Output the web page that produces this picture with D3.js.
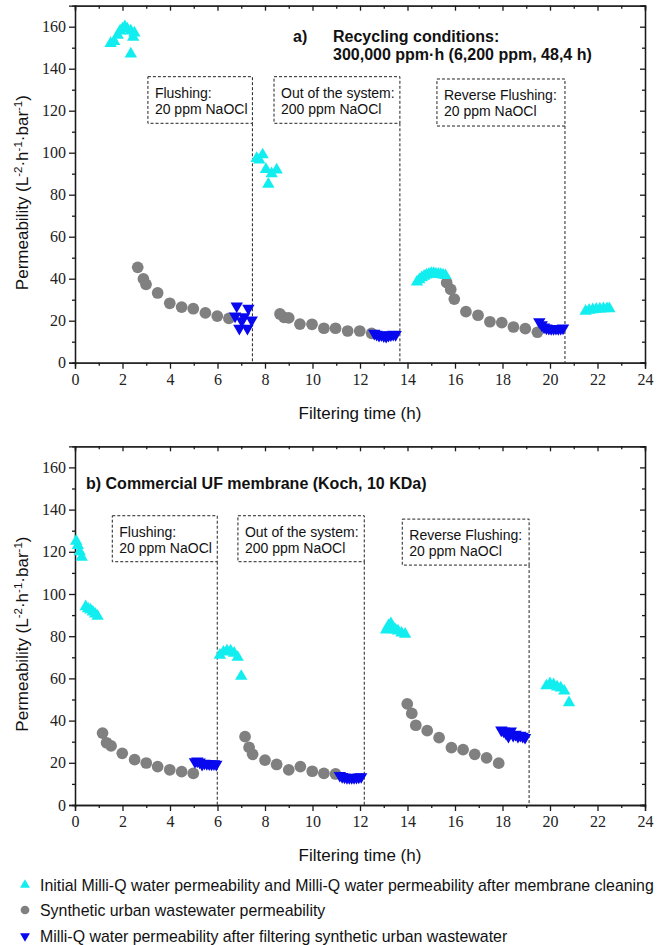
<!DOCTYPE html>
<html>
<head>
<meta charset="utf-8">
<script src="https://cdn.jsdelivr.net/npm/d3@7"></script>
<style>
  html, body { margin: 0; padding: 0; background: #fff; }
  svg { display: block; }
</style>
</head>
<body>
<svg id="chart" width="658" height="945"></svg>
<script>
// ---- Data: [filtering time (h), permeability (L-2·h-1·bar-1)] ----
// Panel a: recycled membrane
const aInitial = [
  [1.5,152],[1.65,153],[1.8,156],[1.9,158],[2.0,159],[2.1,160],[2.2,159],[2.35,158],[2.5,157],[2.45,155],[2.35,147],
  [7.65,97.3],[7.9,99],[7.76,96.5],[8.04,92],[8.28,90],[8.49,91.8],[8.14,85],
  [14.4,38.5],[14.5,39.5],[14.6,40.5],[14.7,41.2],[14.8,41.8],[14.9,42.2],[15.0,42.5],[15.1,42.5],[15.2,42.3],[15.3,42.2],[15.4,42],[15.5,41.8],[15.6,41.5],
  [21.5,24.5],[21.65,25],[21.8,25.3],[21.95,25.5],[22.1,25.6],[22.25,25.7],[22.4,25.8],[22.5,25.7]
];
const aWastewater = [
  [2.64,45.4],[2.88,39.9],[2.99,37.3],[3.48,33.2],[3.99,28.3],[4.49,26.5],[4.98,25.7],[5.49,23.7],[5.99,22.2],[6.48,21.1],
  [8.63,23.2],[8.8,21.6],[9.0,21.3],[9.47,18.4],[9.98,18.3],[10.48,16.4],[10.97,16.4],[11.48,15.1],[11.99,15.1],[12.49,14.0],
  [15.65,38.1],[15.82,34.9],[15.97,30.3],[16.46,24.3],[16.97,22.6],[17.47,19.5],[17.97,19.1],[18.46,17],[18.96,16.2],[19.47,14.5]
];
const aAfter = [
  [6.81,27],[7.3,25.9],[6.74,22.2],[7.12,21.9],[7.02,20],[7.44,20.3],[6.92,16.4],[7.26,16.4],
  [12.6,14],[12.7,13.5],[12.8,13],[12.9,13.3],[13.0,12.8],[13.1,12.5],[13.2,13],[13.3,13.2],[13.4,13.5],[13.5,13.4],
  [19.55,19.5],[19.65,18],[19.75,17],[19.85,16.5],[19.95,16.3],[20.05,16.2],[20.15,16.2],[20.25,16.3],[20.35,16.2],[20.45,16.3],[20.55,16.5]
];
// Panel b: commercial UF membrane
const bInitial = [
  [0.05,125],[0.12,123],[0.2,120],[0.28,117.5],
  [0.45,94],[0.55,93],[0.65,92.5],[0.75,91.5],[0.85,90.5],[0.95,89.5],
  [6.1,71],[6.25,72.5],[6.4,73],[6.55,73],[6.7,72],[6.85,70],[7.0,61],
  [13.1,83],[13.2,85],[13.3,86],[13.4,84],[13.5,83],[13.6,82.5],[13.75,81.5],[13.9,81],
  [19.85,56.5],[20.0,57.5],[20.15,57],[20.3,56],[20.45,55.5],[20.6,54],[20.8,48.5]
];
const bWastewater = [
  [1.16,34.1],[1.33,29.5],[1.52,28],[1.99,24.5],[2.51,21.5],[3.0,19.9],[3.48,18.2],[3.99,16.7],[4.49,15.8],[4.98,15],
  [7.16,32.4],[7.33,27.3],[7.48,24],[8.0,21.3],[8.49,19.2],[9.0,16.6],[9.49,18.2],[9.99,16],[10.48,15],[10.97,14.7],
  [13.99,47.9],[14.18,43.4],[14.35,37.8],[14.83,35.2],[15.33,31.9],[15.85,27.2],[16.34,26.2],[16.83,24],[17.33,22.3],[17.84,19.8]
];
const bAfter = [
  [5.05,20.5],[5.15,20.8],[5.25,20.3],[5.35,19.3],[5.45,19.8],[5.55,19.6],[5.65,19.5],[5.75,19.4],[5.85,19.5],[5.95,19.3],
  [11.15,14],[11.25,13.5],[11.35,13.2],[11.45,13],[11.55,13],[11.65,13],[11.75,13],[11.85,13.1],[11.95,13.2],[12.05,13.4],
  [17.95,35.5],[18.05,35],[18.15,34],[18.25,32.5],[18.35,35],[18.45,33],[18.55,33.5],[18.65,32.5],[18.75,33],[18.85,32.5],[18.95,32]
];

// Cleaning steps: [box left (h), box right = cleaning time (h), box bottom, box top, line 1, line 2]
const aCleaning = [
  [3.07, 7.47, 114, 136.2, "Flushing:", "20 ppm NaOCl"],
  [8.38, 13.68, 114, 136.2, "Out of the system:", "200 ppm NaOCl"],
  [15.24, 20.63, 112.7, 135.1, "Reverse Flushing:", "20 ppm NaOCl"]
];
const bCleaning = [
  [1.57, 5.99, 115.3, 137.1, "Flushing:", "20 ppm NaOCl"],
  [6.86, 12.18, 115.3, 137.1, "Out of the system:", "200 ppm NaOCl"],
  [13.78, 19.12, 113.7, 135.5, "Reverse Flushing:", "20 ppm NaOCl"]
];

// Tick labels
const xTickLabels = [0,2,4,6,8,10,12,14,16,18,20,22,24];
const xMinorTicks = [1,3,5,7,9,11,13,15,17,19,21,23];
const yTickLabels = [0,20,40,60,80,100,120,140,160];
const yMinorTicks = [10,30,50,70,90,110,130,150];

const legendItems = [
  ["up", "Initial Milli-Q water permeability and Milli-Q water permeability after membrane cleaning"],
  ["circle", "Synthetic urban wastewater permeability"],
  ["down", "Milli-Q water permeability after filtering synthetic urban wastewater"]
];

// ---- Styling ----
const CYAN = "#12eef0", GREY = "#808080", BLUE = "#0808ee";
const SANS = "'Liberation Sans', Arial, sans-serif";
const SERIF = "'Liberation Serif', 'Times New Roman', serif";

const svg = d3.select("#chart");
const x = d3.scaleLinear().domain([0, 24]).range([75, 645]);

const triUp = d3.symbol().type(d3.symbolTriangle).size(66)();
const dot = d3.symbol().type(d3.symbolCircle).size(108)();

function drawPanel(cfg) {
  const y = d3.scaleLinear().domain([0, 170]).range([cfg.bottom, cfg.top]);
  const g = svg.append("g");

  // frame axes
  const bottomMajor = d3.axisBottom(x).tickValues(xTickLabels).tickSize(6).tickPadding(5);
  const bottomMinor = d3.axisBottom(x).tickValues(xMinorTicks).tickSize(3).tickFormat("");
  const topMajor = d3.axisTop(x).tickValues(xTickLabels).tickSize(-5).tickFormat("");
  const topMinor = d3.axisTop(x).tickValues(xMinorTicks).tickSize(-3).tickFormat("");
  const leftMajor = d3.axisLeft(y).tickValues(yTickLabels).tickSize(6).tickPadding(3);
  const leftMinor = d3.axisLeft(y).tickValues(yMinorTicks).tickSize(3).tickFormat("");
  const rightMajor = d3.axisRight(y).tickValues(yTickLabels).tickSize(-5).tickFormat("");
  const rightMinor = d3.axisRight(y).tickValues(yMinorTicks).tickSize(-3).tickFormat("");

  const place = (axis, tx, ty) => {
    const a = g.append("g").attr("transform", `translate(${tx},${ty})`).call(axis);
    a.selectAll("path,line").attr("stroke", "#1a1a1a").attr("stroke-width", 1.3);
    a.selectAll("text").attr("font-family", SERIF).attr("font-size", 16).attr("fill", "#222");
    return a;
  };
  place(bottomMajor, 0, cfg.bottom);
  place(bottomMinor, 0, cfg.bottom);
  place(topMajor, 0, cfg.top);
  place(topMinor, 0, cfg.top);
  place(leftMajor, 75, 0);
  place(leftMinor, 75, 0);
  place(rightMajor, 645, 0);
  place(rightMinor, 645, 0);

  // axis titles
  g.append("text")
    .attr("x", 360).attr("y", cfg.bottom + 56)
    .attr("text-anchor", "middle")
    .attr("font-family", SANS).attr("font-size", 17).attr("fill", "#111")
    .text("Filtering time (h)");

  const yt = g.append("text")
    .attr("transform", `translate(28,${y(81)}) rotate(-90)`)
    .attr("text-anchor", "middle")
    .attr("font-family", SANS).attr("font-size", 17).attr("fill", "#111");
  const parts = [["Permeability (L", false], ["-2", true], ["·h", false], ["-1", true], ["·bar", false], ["-1", true], [")", false]];
  parts.forEach(([t, sup], i) => {
    const ts = yt.append("tspan").text(t);
    if (sup) ts.attr("dy", -6).attr("font-size", 11.5);
    else if (i > 0) ts.attr("dy", 6);
  });

  // cleaning step annotations
  cfg.cleaning.forEach(([x0, x1, v0, v1, l1, l2]) => {
    g.append("rect")
      .attr("x", x(x0)).attr("y", y(v1))
      .attr("width", x(x1) - x(x0)).attr("height", y(v0) - y(v1))
      .attr("fill", "none").attr("stroke", "#222").attr("stroke-width", 1)
      .attr("stroke-dasharray", "3,2");
    g.append("line")
      .attr("x1", x(x1)).attr("x2", x(x1))
      .attr("y1", y(v0)).attr("y2", y(0))
      .attr("stroke", "#222").attr("stroke-width", 1)
      .attr("stroke-dasharray", "3,2");
    g.append("text").attr("x", x(x0) + 7).attr("y", y(v1) + 21)
      .attr("font-family", SANS).attr("font-size", 14).attr("fill", "#111").text(l1);
    g.append("text").attr("x", x(x0) + 7).attr("y", y(v1) + 37)
      .attr("font-family", SANS).attr("font-size", 14).attr("fill", "#111").text(l2);
  });

  // markers
  const drawSeries = (data, path, fill, rot) => {
    g.append("g").selectAll("path").data(data).join("path")
      .attr("d", path)
      .attr("transform", d => `translate(${x(d[0])},${y(d[1])})${rot ? " rotate(180)" : ""}`)
      .attr("fill", fill);
  };
  drawSeries(cfg.wastewater, dot, GREY, false);
  drawSeries(cfg.after, triUp, BLUE, true);
  drawSeries(cfg.initial, triUp, CYAN, false);

  cfg.title(g);
}

drawPanel({
  top: 5.7, bottom: 362.7,
  initial: aInitial, wastewater: aWastewater, after: aAfter, cleaning: aCleaning,
  title: g => {
    const t = g.append("g").attr("font-family", SANS).attr("font-size", 16)
      .attr("font-weight", "bold").attr("fill", "#111");
    t.append("text").attr("x", 293).attr("y", 42).text("a)");
    t.append("text").attr("x", 333).attr("y", 42).text("Recycling conditions:");
    t.append("text").attr("x", 333).attr("y", 60).text("300,000 ppm·h (6,200 ppm, 48,4 h)");
  }
});

drawPanel({
  top: 446.3, bottom: 805,
  initial: bInitial, wastewater: bWastewater, after: bAfter, cleaning: bCleaning,
  title: g => {
    g.append("text").attr("x", 86).attr("y", 489)
      .attr("font-family", SANS).attr("font-size", 16).attr("font-weight", "bold").attr("fill", "#111")
      .text("b) Commercial UF membrane (Koch, 10 KDa)");
  }
});

// legend
const legend = svg.append("g");
const legendY = [885, 910, 936];
legendItems.forEach(([kind, label], i) => {
  const sy = legendY[i];
  if (kind === "circle") {
    legend.append("path").attr("d", d3.symbol().type(d3.symbolCircle).size(60)())
      .attr("transform", `translate(25,${sy})`).attr("fill", GREY);
  } else {
    legend.append("path").attr("d", d3.symbol().type(d3.symbolTriangle).size(42)())
      .attr("transform", `translate(25,${sy})${kind === "down" ? " rotate(180)" : ""}`)
      .attr("fill", kind === "down" ? BLUE : CYAN);
  }
  legend.append("text").attr("x", 40).attr("y", sy + 6)
    .attr("font-family", SANS).attr("font-size", 15.9).attr("fill", "#111")
    .text(label);
});
</script>
</body>
</html>
